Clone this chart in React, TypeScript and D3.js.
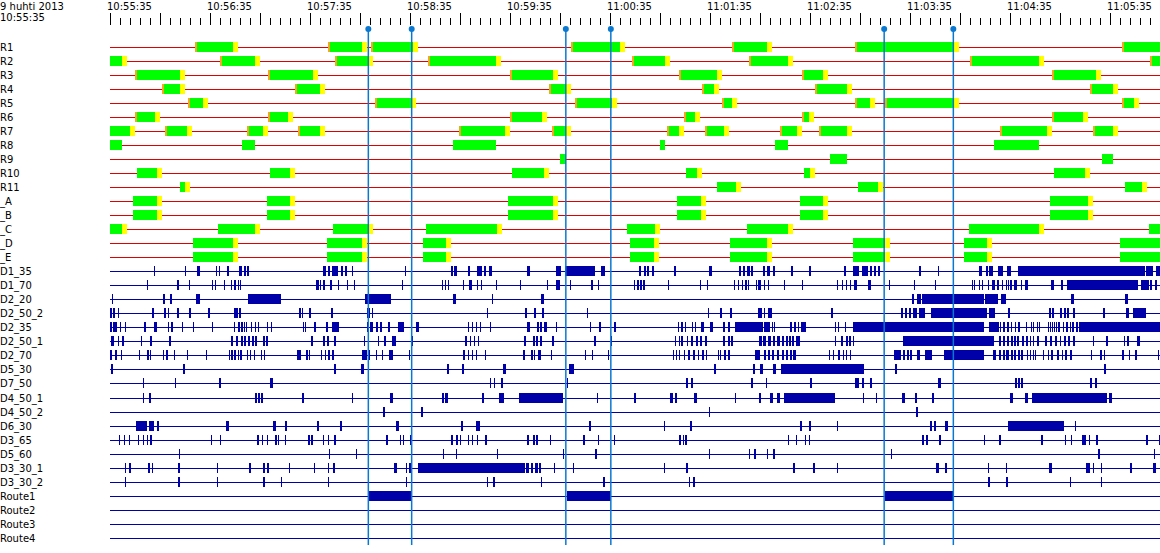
import React from "react";
import * as d3 from "d3";

// ---------- header / time axis ----------
const DATE_LABEL = "9 huhti 2013";
const T0 = new Date(2013, 3, 9, 10, 55, 35); // chart start time
const DOMAIN_END = 630; // seconds visible after T0
const MINOR_STEP = 6; // seconds
const MAJOR_STEP = 30; // seconds
const LABEL_STEP = 60; // seconds

// ---------- bar rows (seconds after 10:55:35, [start, end]) ----------
type Span = [number, number];
const R1: Span[] = [[51, 77], [131, 154], [156.5, 184.5], [276.5, 309], [373, 397], [447, 509.5], [607, 640]];
const R2: Span[] = [[-5, 10], [66, 90], [135, 158], [191, 234.5], [313, 336], [383.5, 410], [516, 560.5], [624, 640]];
const R3: Span[] = [[15, 45], [95, 125], [240, 269], [341.5, 367], [415, 431], [565, 594.5]];
const R4: Span[] = [[31, 45], [111, 129], [263.5, 276.5], [355, 365.5], [423, 445], [588, 605]];
const R5: Span[] = [[47, 59], [159, 183.5], [279, 304], [367, 376], [447, 459], [465, 509.5], [607, 617.5]];
const R6: Span[] = [[15, 30], [95, 110], [240, 262], [344.5, 354], [415, 422.5], [565, 587]];
const R7: Span[] = [[-5, 15], [33, 49], [82, 95], [113, 129], [209.5, 240], [265, 276.5], [334, 344.5], [357, 371.5], [402, 415], [425.5, 445], [534, 565], [590, 605]];
const R8: Span[] = [[-5, 7], [79, 87], [206, 231.5], [330, 333], [399, 407], [530.5, 557.5]];
const R9: Span[] = [[270, 273.5], [432, 442], [595, 602]];
const R10: Span[] = [[16, 31], [96, 111], [241, 263.5], [345.5, 355], [416.5, 423], [566.5, 588]];
const R11: Span[] = [[42, 48], [364, 378.5], [449, 464], [609, 622]];
const A_: Span[] = [[14, 31], [94, 111], [239, 269], [340, 357.5], [414, 431], [564, 590]];
const B_: Span[] = [[14, 31], [94, 111], [239, 269], [340, 357.5], [414, 431], [564, 590]];
const C_: Span[] = [[-5, 10], [65, 90], [134, 158], [189.5, 235], [310, 330], [382, 410], [515.5, 560.5], [623.5, 640]];
const D_: Span[] = [[50, 77], [130, 154], [188, 204.5], [312, 329.5], [372, 397], [446, 468], [512.5, 529], [606, 640]];
const E_: Span[] = [[50, 77], [130, 154], [188, 204.5], [312, 329.5], [372, 397], [446, 468], [512.5, 529], [606, 640]];

// ---------- event rows (single instants or [start, end]) ----------
type Ev = number | Span;
const D1_35: Ev[] = [26.5, 45, [52, 54], 63.6, 65.4, [70, 71.5], [77.5, 79], [80.5, 81.5], [82, 83.5], [128, 129.5], [131, 132], [133, 137], [138.5, 140], [141, 142], 145, 177, [204.5, 206], [206.5, 208], [215, 216], [220, 223], [224.5, 225.5], [227.5, 229], [250, 252], [267.5, 270.5], [273, 291], [294.5, 297], [317.5, 318.5], [320.5, 321.5], [322, 323.5], [325, 326.5], [338.5, 339.5], [359.5, 361], [377.5, 378.5], [380, 381], [382, 384], [384.5, 386], [392, 393], [394, 396], [398, 399], [408.5, 410], [419.5, 420.5], [440.5, 441.5], [446, 449.5], [451, 455], [456, 457], [458.5, 459.5], [461, 462], [485.5, 486.5], 497, [521.5, 523], [525.5, 527], [527.5, 530], [533, 536], [538, 540.5], [545, 621], [621.5, 626], [627.5, 640]];
const D1_70: Ev[] = [22, [40, 41.5], 47.5, 61, 63, 68.5, 72.5, [74.5, 75.5], 77, 78, [123.5, 125.5], 126, [128, 129], [132, 133], 137, 142, 146.5, 175, 199, 201, 203, 212, [215.5, 217], 220, 222.5, 231.5, 246, 262, [267.5, 270], 276, [288.5, 290], 293, 314.5, [316, 317.5], [318, 319], [320, 321], 335, 354, 358, 374.5, 377, 379, [381, 382], 383, 387.5, [389, 390.5], 392.5, 395, 404.5, 415, 436, 439, 441.5, 444, [446.5, 448], [455, 456.5], 467.5, 482.5, 495, 517, 518.5, 521.5, 523, 527, [529, 531], [532, 533.5], 535, [537.5, 538], [539, 539.5], [540, 541], [542.5, 544], 546.5, [549, 551], [564.5, 566.5], [570.5, 572], [574, 617], [618.5, 623.5], [624, 625], [627, 628]];
const D2_20: Ev[] = [1, [32, 33], [36, 37], [51.5, 54], [83, 102.5], [153, 168.5], [206, 207.5], 229, [258.5, 260.5], [481, 482.5], [484, 486.5], [487, 524.5], [525, 533], [534.5, 537.5], [576.5, 578.5], [609, 611]];
const D2_50_2: Ev[] = [[0, 1], [2, 3], 5, [25, 26.5], [32.5, 33.5], 35, [40, 41.5], [47.5, 48.5], [59, 60], [74.5, 77], [77.5, 78.5], [113.5, 114.5], 115, [119.5, 120.5], [132.5, 134], [154, 156], 157, 226, [249, 250], [254.5, 255.5], [259, 260.5], 286, 359, [366, 367], [372, 373], [389, 391], 392.5, [395, 397], [432.5, 434], [474.5, 476], [477, 478], [479.5, 480.5], [482, 484], [485.5, 489], [492.5, 526], [527.5, 531], [539, 540], [563.5, 564.5], [565, 566.5], [570, 571], [572.5, 573.5], [574, 575.5], [578, 579], [596, 597], [609.5, 611.5], [614, 621.5]];
const D2_35: Ev[] = [[0, 1], [2, 4], 6, 9, [20.5, 21.5], [26.5, 28], 35, [36.5, 38], 43, 50, 61, 74.5, [77, 78], [78.5, 80], 80.5, 81.5, 84.5, 87, 89, 94, 96.5, 116, 117, [122.5, 123.5], [129.5, 131], [133, 137.5], [154, 155.5], [156, 158], [159.5, 161], [162, 163], [167, 168], [173, 176.5], [183.5, 185.5], 215, 217, 219.5, 222, 228, [250, 252], [256, 257.5], [258, 259], [260.5, 262], 267.5, 288, [293.5, 294.5], [302.5, 303.5], 341, [342.5, 344], 345, 349, 351, [354.5, 356.5], [360, 362], [368, 369], [371, 372], [375, 392], [392.5, 396], 397, 398.5, [408, 409], [410.5, 411.5], 413, [414.5, 417.5], 435, 437, 441, [446, 524.5], [527.5, 533.5], 534, [536, 537], [538, 539.5], 540.5, 543, [545, 546], 549.5, 552.5, 554, 556, 557.5, 563, 564, 565, 566.5, 567.5, [569, 570], 572, [573.5, 575], 576, [577, 578.5], [579.5, 581], [581.5, 640]];
const D2_50_1: Ev[] = [0.5, [1, 2.5], 5, [7, 8.5], 18.5, [24, 25], [35.5, 36.5], [72.5, 74], [75.5, 77], [78.5, 80], [80.5, 81.5], [83, 84], [85, 86.5], [87, 88], [92, 93], [93.5, 95], [120.5, 122], [128, 129], [130, 131.5], [134.5, 135.5], 152.5, 161, [164.5, 165.5], [169, 171.5], 181, [213, 214], 216, 218.5, 221, [248.5, 249.5], [254, 255], [255.5, 257], [258, 259], [265, 266.5], [290.5, 291.5], 300.5, 339, 341.5, [342.5, 344], 346, [348.5, 350], [351.5, 353], [354, 355], [357, 358], [368, 369], [371, 372], [372.5, 374], [389.5, 391], [392, 393.5], [395, 396.5], [398, 399], [400, 402], [403, 404.5], [405.5, 407], [407.5, 408.5], [409, 410.5], [411.5, 414], 435, [438.5, 440], [441.5, 443], [443.5, 444.5], 446, [476, 530.5], [533.5, 534.5], [536, 537], [538, 539.5], [540.5, 542], [542.5, 543.5], [544, 545.5], [547, 548.5], [549.5, 551], 552, 554, [556, 557.5], [561, 562], [564, 565], [567, 568], 570, [572.5, 573.5], [575, 576], [578, 579], 590, [597.5, 599], 608.5, [610, 611.5], [616, 618]];
const D2_70: Ev[] = [[0, 1], [3, 4], 6.5, 17.5, [22, 23.5], 24, 32, [33.5, 35], 38.5, 46, 57.5, 71.5, [72.5, 74], [74.5, 75.5], 77, [78, 79], 82, 84, 86.5, 90.5, 92.5, [112, 114.5], [117.5, 119], 119.5, 126.5, 129, [131, 132], [133, 134.5], 151, [152, 154], 155.5, 159.5, 163, [167.5, 170], 179.5, [212, 213], 215, 217, 219.5, 225, [248, 249], [252.5, 254], 254.5, [257, 258.5], 264.5, 285, 289, 299, 338, 339.5, 341.5, 344.5, [347, 348], [350, 351], 353, [355, 356.5], 357.5, 365, 366, [368.5, 369.5], [371, 372], [387, 390], [392.5, 393.5], [395, 396], [397, 398.5], [400, 401.5], [403, 404.5], [405.5, 407], [408, 409], [410, 411.5], 431.5, 434, [437, 438], 440, 441.5, 444, [470.5, 474.5], [476, 477], [478, 479.5], [480, 481], [484, 486], [489, 493], [500.5, 524.5], [530, 531.5], [533.5, 534.5], [536, 537], [537.5, 539.5], [540.5, 542], [542.5, 543.5], [545, 546], [546.5, 548], 550, 552, 554, 555, 560, 563, [564.5, 566], [568, 569.5], 571, [573, 574], [576, 577], 588.5, [594, 595], 596.5, [607, 608.5], 611.5, [615, 616], 629];
const D5_30: Ev[] = [[0.5, 2], [44, 45], [134.5, 135.5], [150.5, 152.5], [202, 203.5], [211, 212.5], [236, 237.5], [275.5, 278.5], [362.5, 363.5], [386, 387], [390, 392], [398, 399.5], [402.5, 452.5], [471, 472], [596.5, 597.5]];
const D7_50: Ev[] = [20, 39, [65.5, 66.5], [96, 98], 228, 230.5, [234.5, 236], 274, [345.5, 347], [348.5, 350], [384.5, 386], 393.5, [420, 421], [447, 449.5], [451, 452.5], [456, 457], [497, 498.5], [543, 544], [545, 546], [546.5, 548], [588, 589], [591, 592]];
const D4_50_1: Ev[] = [20, [23.5, 24.5], [87, 88], [89, 90], [90.5, 92], [115, 116.5], 145, [168, 170], [199, 200.5], [201, 203], [223, 224.5], [233.5, 236.5], [245.5, 272], 292, [314.5, 315.5], [336, 338], [339, 340], [350.5, 352], 375, [389.5, 390.5], [396, 398], [400, 402], [404.5, 435], 452, 459.5, [475, 477], [483, 484], [493, 494.5], [540, 542], [549, 551], [553, 598], [599.5, 601]];
const D4_50_2: Ev[] = [[164, 165], [186.5, 188], 359.5, [483.5, 485]];
const D6_30: Ev[] = [[15.5, 22], [23.5, 26.5], [28, 29.5], [69.5, 71.5], [98, 99.5], [105, 106], [124, 125.5], [138, 139], [171.5, 173.5], [210.5, 212], [219.5, 222], [287.5, 288.5], 332.5, [348, 349], [414, 415], [419.5, 420.5], 436, [492, 493], [494.5, 495.5], [501, 503], [539, 572.5], 579];
const D3_65: Ev[] = [5.5, 8.5, 11.5, 17, 20, 22, [24, 25], 60.5, 66, [88, 89.5], 91, 94, [99, 100], 101, 105, [119, 120], [120.5, 122], 128, 131, [134.5, 135.5], [165.5, 167], 174, 176, [180, 181], [204.5, 206], [207.5, 209], 210, 215, 217, 220, [225, 226], [250, 251.5], [254, 255], [255.5, 256.5], 264, [284, 285], 293, 302.5, [341.5, 342.5], 344, [345, 346], 407, 411.5, 417, 419.5, [487, 488.5], [489.5, 491], [497.5, 498.5], 524.5, [533.5, 534.5], [558.5, 560], 573, 576.5, [583, 585.5], 587.5, [591.5, 593], [621.5, 623], 629.5];
const D5_60: Ev[] = [41.5, 131.5, 147.5, 200, 207.5, 232, 272, [291, 292], 359.5, 383.5, [386.5, 387.5], 394, [398, 399], 468.5, [593, 594], 626.5];
const D3_30_1: Ev[] = [9, [11.5, 12.5], [23, 24], 25, [41, 42], 64, [83.5, 84.5], [92, 93], [94, 95.5], 107.5, 122.5, 131, [134, 135], [170.5, 172], 177.5, [179.5, 180.5], [185, 249], [249.5, 251.5], [252.5, 254], [255, 257], [257.5, 258.5], 266.5, 278, 332.5, [345.5, 347], [410, 411], [422, 423], 436, [495.5, 497.5], [501, 502], 527, 537.5, [563.5, 565], [585.5, 588], 590, 594.5, [612, 613], [626, 627.5]];
const D3_30_2: Ev[] = [9, [41, 42], 64, [92, 93], 102.5, 131, 177.5, 226, [230, 231], 258.5, [296, 297], 347.5, [350, 351], [527, 528], [537.5, 539], 576, 594.5];
const Route1: Span[] = [[155.5, 181], [274, 300.5], [465, 506]];
const Route2: Span[] = [];
const Route3: Span[] = [];
const Route4: Span[] = [];

type BarRow = { name: string; bars: Span[]; orange: boolean; yellow: boolean };
const barRows: BarRow[] = [
  { name: "R1", bars: R1, orange: true, yellow: true },
  { name: "R2", bars: R2, orange: true, yellow: true },
  { name: "R3", bars: R3, orange: true, yellow: true },
  { name: "R4", bars: R4, orange: true, yellow: true },
  { name: "R5", bars: R5, orange: true, yellow: true },
  { name: "R6", bars: R6, orange: true, yellow: true },
  { name: "R7", bars: R7, orange: true, yellow: true },
  { name: "R8", bars: R8, orange: false, yellow: false },
  { name: "R9", bars: R9, orange: false, yellow: false },
  { name: "R10", bars: R10, orange: false, yellow: true },
  { name: "R11", bars: R11, orange: false, yellow: true },
  { name: "_A", bars: A_, orange: false, yellow: true },
  { name: "_B", bars: B_, orange: false, yellow: true },
  { name: "_C", bars: C_, orange: false, yellow: true },
  { name: "_D", bars: D_, orange: false, yellow: true },
  { name: "_E", bars: E_, orange: false, yellow: true },
];

const eventRows: { name: string; events: Ev[] }[] = [
  { name: "D1_35", events: D1_35 },
  { name: "D1_70", events: D1_70 },
  { name: "D2_20", events: D2_20 },
  { name: "D2_50_2", events: D2_50_2 },
  { name: "D2_35", events: D2_35 },
  { name: "D2_50_1", events: D2_50_1 },
  { name: "D2_70", events: D2_70 },
  { name: "D5_30", events: D5_30 },
  { name: "D7_50", events: D7_50 },
  { name: "D4_50_1", events: D4_50_1 },
  { name: "D4_50_2", events: D4_50_2 },
  { name: "D6_30", events: D6_30 },
  { name: "D3_65", events: D3_65 },
  { name: "D5_60", events: D5_60 },
  { name: "D3_30_1", events: D3_30_1 },
  { name: "D3_30_2", events: D3_30_2 },
  { name: "Route1", events: Route1 },
  { name: "Route2", events: Route2 },
  { name: "Route3", events: Route3 },
  { name: "Route4", events: Route4 },
];

// marker lines at the Route1 boundaries
const markers: number[] = Route1.flatMap((s) => [s[0] - 0.5, s[1]]);

// ---------- styles ----------
const W = 1160;
const H = 553;
const LEFT = 110;
const FIRST_ROW = 47;
const ROW_STEP = 14.02;
const BAR_H = 10;
const ORANGE_W = 2;
const YELLOW_W = 5;
const FONT = "'DejaVu Sans', Tahoma, Verdana, sans-serif";
const C_RED = "#e00000";
const C_GREEN = "#00ff00";
const C_YELLOW = "#ffff00";
const C_ORANGE = "#f5a623";
const C_NAVY = "#0000a8";
const C_MARK = "#0a78d0";

export default function App() {
  const x = d3.scaleLinear().domain([0, DOMAIN_END]).range([LEFT, W]);
  const nRows = barRows.length + eventRows.length;
  const rowY = (i: number) => Math.round(FIRST_ROW + i * ROW_STEP);
  const px = (t: number) => Math.round(x(t));
  const fmt = d3.timeFormat("%H:%M:%S");
  const timeAt = (s: number) => new Date(T0.getTime() + s * 1000);
  const ticks = d3.range(0, DOMAIN_END + 0.001, MINOR_STEP);
  const labels = d3.range(0, DOMAIN_END, LABEL_STEP);
  const bottom = rowY(nRows - 1) + 7;

  return (
    <svg
      width={W}
      height={H}
      style={{ position: "absolute", left: 0, top: 0, background: "#fff" }}
      fontFamily={FONT}
      fontSize={10}
    >
      <defs>
        <clipPath id="plot">
          <rect x={LEFT} y={0} width={W - LEFT} height={H} />
        </clipPath>
      </defs>
      <text x={0} y={10}>{DATE_LABEL}</text>
      <text x={0} y={21}>{fmt(T0)}</text>
      {/* axis ticks */}
      {ticks.map((t) => {
        const major = Math.abs(t % MAJOR_STEP) < 0.001;
        return (
          <line
            key={"t" + t}
            x1={px(t) + 0.5}
            x2={px(t) + 0.5}
            y1={major ? 13 : 18}
            y2={25}
            stroke="#000"
            strokeWidth={1}
          />
        );
      })}
      {labels.map((t) => (
        <text key={"l" + t} x={px(t) - 3} y={10}>
          {fmt(timeAt(t))}
        </text>
      ))}

      {/* row labels */}
      {[...barRows.map((r) => r.name), ...eventRows.map((r) => r.name)].map((n, i) => (
        <text key={"n" + n} x={0} y={rowY(i) + 4}>
          {n}
        </text>
      ))}

      <g clipPath="url(#plot)">
        {barRows.map((r, i) => {
          const y = rowY(i);
          return (
            <g key={r.name}>
              <line x1={LEFT} x2={W} y1={y + 0.5} y2={y + 0.5} stroke={C_RED} strokeWidth={1} />
              {r.bars.map((b, j) => {
                const x0 = px(b[0]);
                const x1 = px(b[1]);
                const gStart = r.orange ? x0 + ORANGE_W : x0;
                const gEnd = r.yellow ? x1 - YELLOW_W : x1;
                return (
                  <g key={j}>
                    {r.orange && <rect x={x0} y={y - 5} width={ORANGE_W} height={BAR_H} fill={C_ORANGE} />}
                    <rect x={gStart} y={y - 5} width={Math.max(1, gEnd - gStart)} height={BAR_H} fill={C_GREEN} />
                    {r.yellow && <rect x={gEnd} y={y - 5} width={YELLOW_W} height={BAR_H} fill={C_YELLOW} />}
                  </g>
                );
              })}
            </g>
          );
        })}
        {eventRows.map((r, k) => {
          const y = rowY(barRows.length + k);
          return (
            <g key={r.name}>
              <line x1={LEFT} x2={W} y1={y + 0.5} y2={y + 0.5} stroke={C_NAVY} strokeWidth={1} />
              {r.events.map((e, j) => {
                const a = Array.isArray(e) ? e[0] : e;
                const b = Array.isArray(e) ? e[1] : e;
                const x0 = px(a);
                const w = Math.max(1, px(b) - x0);
                return <rect key={j} x={x0} y={y - 5} width={w} height={BAR_H} fill={C_NAVY} />;
              })}
            </g>
          );
        })}
      </g>

      {/* markers */}
      {markers.map((m, i) => (
        <g key={"m" + i}>
          <line x1={x(m)} x2={x(m)} y1={29} y2={bottom} stroke={C_MARK} strokeWidth={1.5} />
          <circle cx={x(m)} cy={29} r={3} fill={C_MARK} />
        </g>
      ))}
    </svg>
  );
}
